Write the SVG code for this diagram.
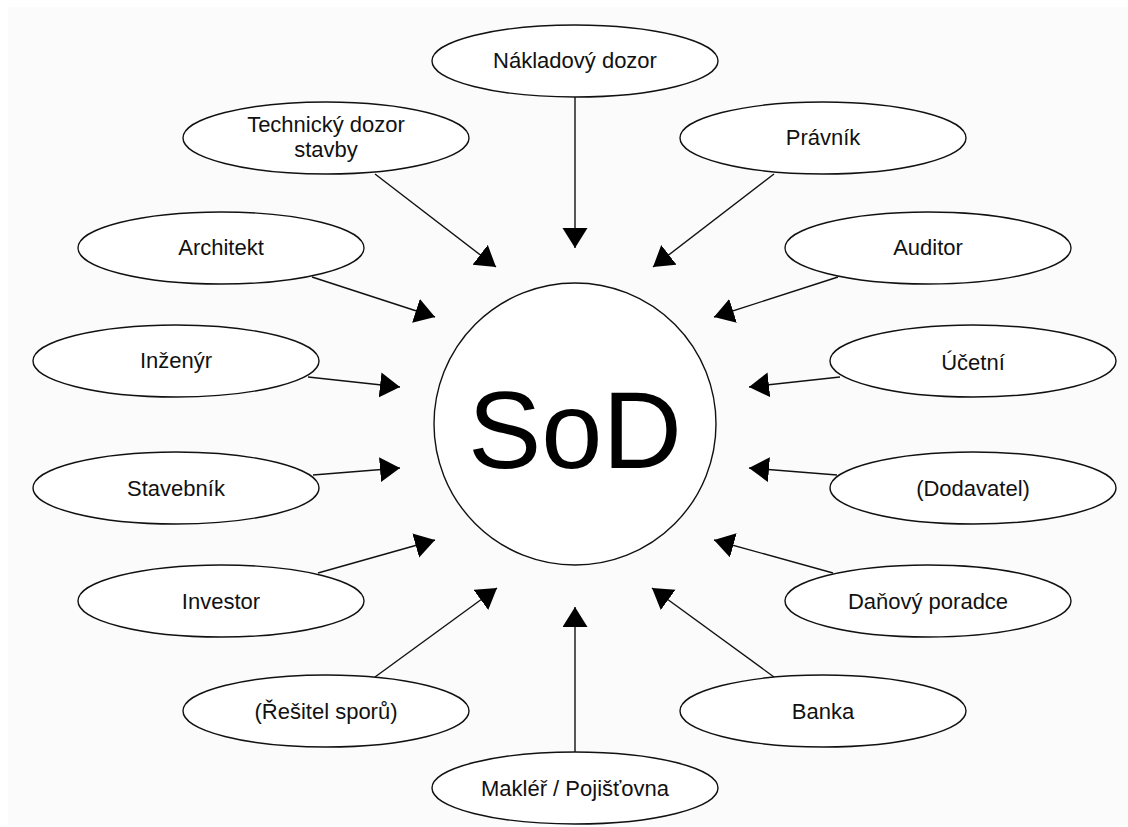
<svg xmlns="http://www.w3.org/2000/svg" width="1128" height="827" viewBox="0 0 1128 827">
<style>
.n ellipse{fill:#ffffff;stroke:#111;stroke-width:1.4}
.n text{font-family:"Liberation Sans",Arial,sans-serif;font-size:22px;fill:#111;text-anchor:middle}
.c line{stroke:#111;stroke-width:1.4;marker-end:url(#ah)}
</style>
<defs>
<marker id="ah" markerUnits="userSpaceOnUse" markerWidth="22" markerHeight="26" refX="20" refY="12.5" orient="auto">
<path d="M0,0 L20,12.5 L0,25 z" fill="#000"/>
</marker>
</defs>
<rect x="0" y="0" width="1128" height="827" fill="#ffffff"/>
<rect x="8" y="7" width="1120" height="818" fill="#fbfbfb"/>
<g id="connectors" class="c">
<line x1="575" y1="97" x2="575" y2="248"/>
<line x1="375" y1="174" x2="496" y2="267"/>
<line x1="774" y1="174" x2="653" y2="267"/>
<line x1="312" y1="277" x2="435" y2="317"/>
<line x1="838" y1="277" x2="714" y2="317"/>
<line x1="308" y1="377" x2="400" y2="387"/>
<line x1="840" y1="377" x2="749" y2="387"/>
<line x1="313" y1="475" x2="400" y2="468"/>
<line x1="837" y1="475" x2="749" y2="468"/>
<line x1="318" y1="573" x2="435" y2="540"/>
<line x1="833" y1="573" x2="714" y2="540"/>
<line x1="375" y1="677" x2="497" y2="588"/>
<line x1="774" y1="677" x2="652" y2="588"/>
<line x1="575" y1="752" x2="575" y2="607"/>
</g>
<g id="sod">
<circle cx="575" cy="424" r="141" fill="#ffffff" stroke="#111" stroke-width="1.4"/>
<text x="575" y="468" font-family="Liberation Sans, Arial, sans-serif" font-size="110" text-anchor="middle" fill="#000">SoD</text>
</g>
<g id="naklad" class="n"><ellipse cx="575" cy="61" rx="143" ry="36"/><text x="575" y="68">Nákladový dozor</text></g>
<g id="technicky" class="n"><ellipse cx="326" cy="138" rx="143" ry="36"/><text x="326" y="132">Technický dozor</text><text x="326" y="157">stavby</text></g>
<g id="pravnik" class="n"><ellipse cx="823" cy="138" rx="143" ry="36"/><text x="823" y="145">Právník</text></g>
<g id="architekt" class="n"><ellipse cx="221" cy="248" rx="143" ry="36"/><text x="221" y="255">Architekt</text></g>
<g id="auditor" class="n"><ellipse cx="928" cy="248" rx="143" ry="36"/><text x="928" y="255">Auditor</text></g>
<g id="inzenyr" class="n"><ellipse cx="176" cy="361" rx="143" ry="36"/><text x="176" y="368">Inženýr</text></g>
<g id="ucetni" class="n"><ellipse cx="973" cy="361" rx="143" ry="36"/><text x="973" y="370">Účetní</text></g>
<g id="stavebnik" class="n"><ellipse cx="176" cy="488" rx="143" ry="36"/><text x="176" y="496">Stavebník</text></g>
<g id="dodavatel" class="n"><ellipse cx="973" cy="488" rx="143" ry="36"/><text x="973" y="496">(Dodavatel)</text></g>
<g id="investor" class="n"><ellipse cx="221" cy="601" rx="143" ry="36"/><text x="221" y="609">Investor</text></g>
<g id="danovy" class="n"><ellipse cx="928" cy="601" rx="143" ry="36"/><text x="928" y="609">Daňový poradce</text></g>
<g id="resitel" class="n"><ellipse cx="326" cy="711" rx="143" ry="36"/><text x="326" y="719">(Řešitel sporů)</text></g>
<g id="banka" class="n"><ellipse cx="823" cy="711" rx="143" ry="36"/><text x="823" y="719">Banka</text></g>
<g id="makler" class="n"><ellipse cx="575" cy="788" rx="143" ry="36"/><text x="575" y="796">Makléř / Pojišťovna</text></g>
</svg>
